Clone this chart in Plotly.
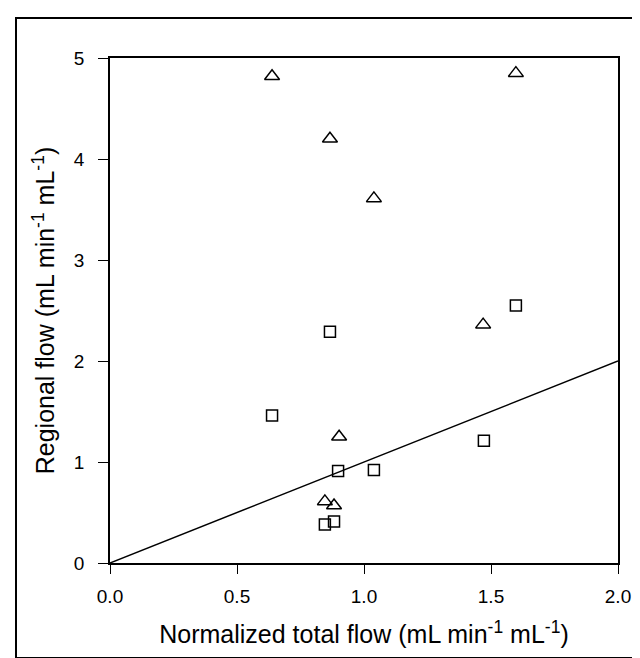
import plotly.graph_objects as go

# Data
total_flow = [0.638, 0.866, 1.039, 1.598, 1.469, 0.902, 0.846, 0.882]
regional_triangles = [4.82, 4.20, 3.61, 4.85, 2.36, 1.25, 0.61, 0.57]

total_flow_sq = [0.638, 0.866, 1.598, 1.472, 0.898, 1.039, 0.846, 0.882]
regional_squares = [1.46, 2.29, 2.55, 1.21, 0.91, 0.92, 0.38, 0.41]

line_x = [0.0, 2.0]
line_y = [0.0, 2.0]

x_ticks = [0.0, 0.5, 1.0, 1.5, 2.0]
x_tick_labels = ["0.0", "0.5", "1.0", "1.5", "2.0"]
y_ticks = [0, 1, 2, 3, 4, 5]
y_tick_labels = ["0", "1", "2", "3", "4", "5"]

font_family = "Arial, Liberation Sans, Helvetica, sans-serif"

fig = go.Figure()

fig.add_trace(go.Scatter(
    x=line_x, y=line_y, mode="lines",
    line=dict(color="black", width=1.5),
    showlegend=False, hoverinfo="skip",
))

fig.add_trace(go.Scatter(
    x=total_flow, y=regional_triangles, mode="markers",
    marker=dict(symbol="triangle-up-open", size=13, color="black",
                line=dict(color="black", width=1.5)),
    showlegend=False,
))

fig.add_trace(go.Scatter(
    x=total_flow_sq, y=regional_squares, mode="markers",
    marker=dict(symbol="square-open", size=11, color="black",
                line=dict(color="black", width=1.5)),
    showlegend=False,
))

W, H = 640, 658
ml, mr, mt, mb = 102, 30, 50, 103
pw = W - ml - mr
ph = H - mt - mb

def px_to_paper_x(px):
    return (px - ml) / pw

def px_to_paper_y(py):
    return (H - mb - py) / ph

# outer frame around the whole figure
fig.add_shape(
    type="rect", xref="paper", yref="paper",
    x0=px_to_paper_x(8), x1=px_to_paper_x(632),
    y0=px_to_paper_y(650), y1=px_to_paper_y(10),
    line=dict(color="black", width=2), fillcolor="rgba(0,0,0,0)",
    layer="above",
)

fig.update_layout(
    width=W, height=H,
    margin=dict(l=ml, r=mr, t=mt, b=mb, pad=0),
    paper_bgcolor="white", plot_bgcolor="white",
    font=dict(family=font_family, color="black"),
    xaxis=dict(
        range=[0, 2.0], tickvals=x_ticks, ticktext=x_tick_labels,
        ticks="outside", ticklen=9, tickwidth=1.2, tickcolor="black",
        ticklabelstandoff=6,
        showline=True, linecolor="black", linewidth=1.5, mirror=True,
        showgrid=False, zeroline=False,
        tickfont=dict(size=19, family=font_family),
        title=dict(text="Normalized total flow (mL min<sup>-1</sup> mL<sup>-1</sup>)",
                   font=dict(size=25, family=font_family), standoff=20),
    ),
    yaxis=dict(
        range=[0, 5], tickvals=y_ticks, ticktext=y_tick_labels,
        ticks="outside", ticklen=10, tickwidth=1.2, tickcolor="black",
        ticklabelstandoff=10,
        showline=True, linecolor="black", linewidth=1.5, mirror=True,
        showgrid=False, zeroline=False,
        tickfont=dict(size=19, family=font_family),
        title=dict(text="Regional flow (mL min<sup>-1</sup> mL<sup>-1</sup>)",
                   font=dict(size=25, family=font_family), standoff=12),
    ),
)

fig.write_html("out.html")
